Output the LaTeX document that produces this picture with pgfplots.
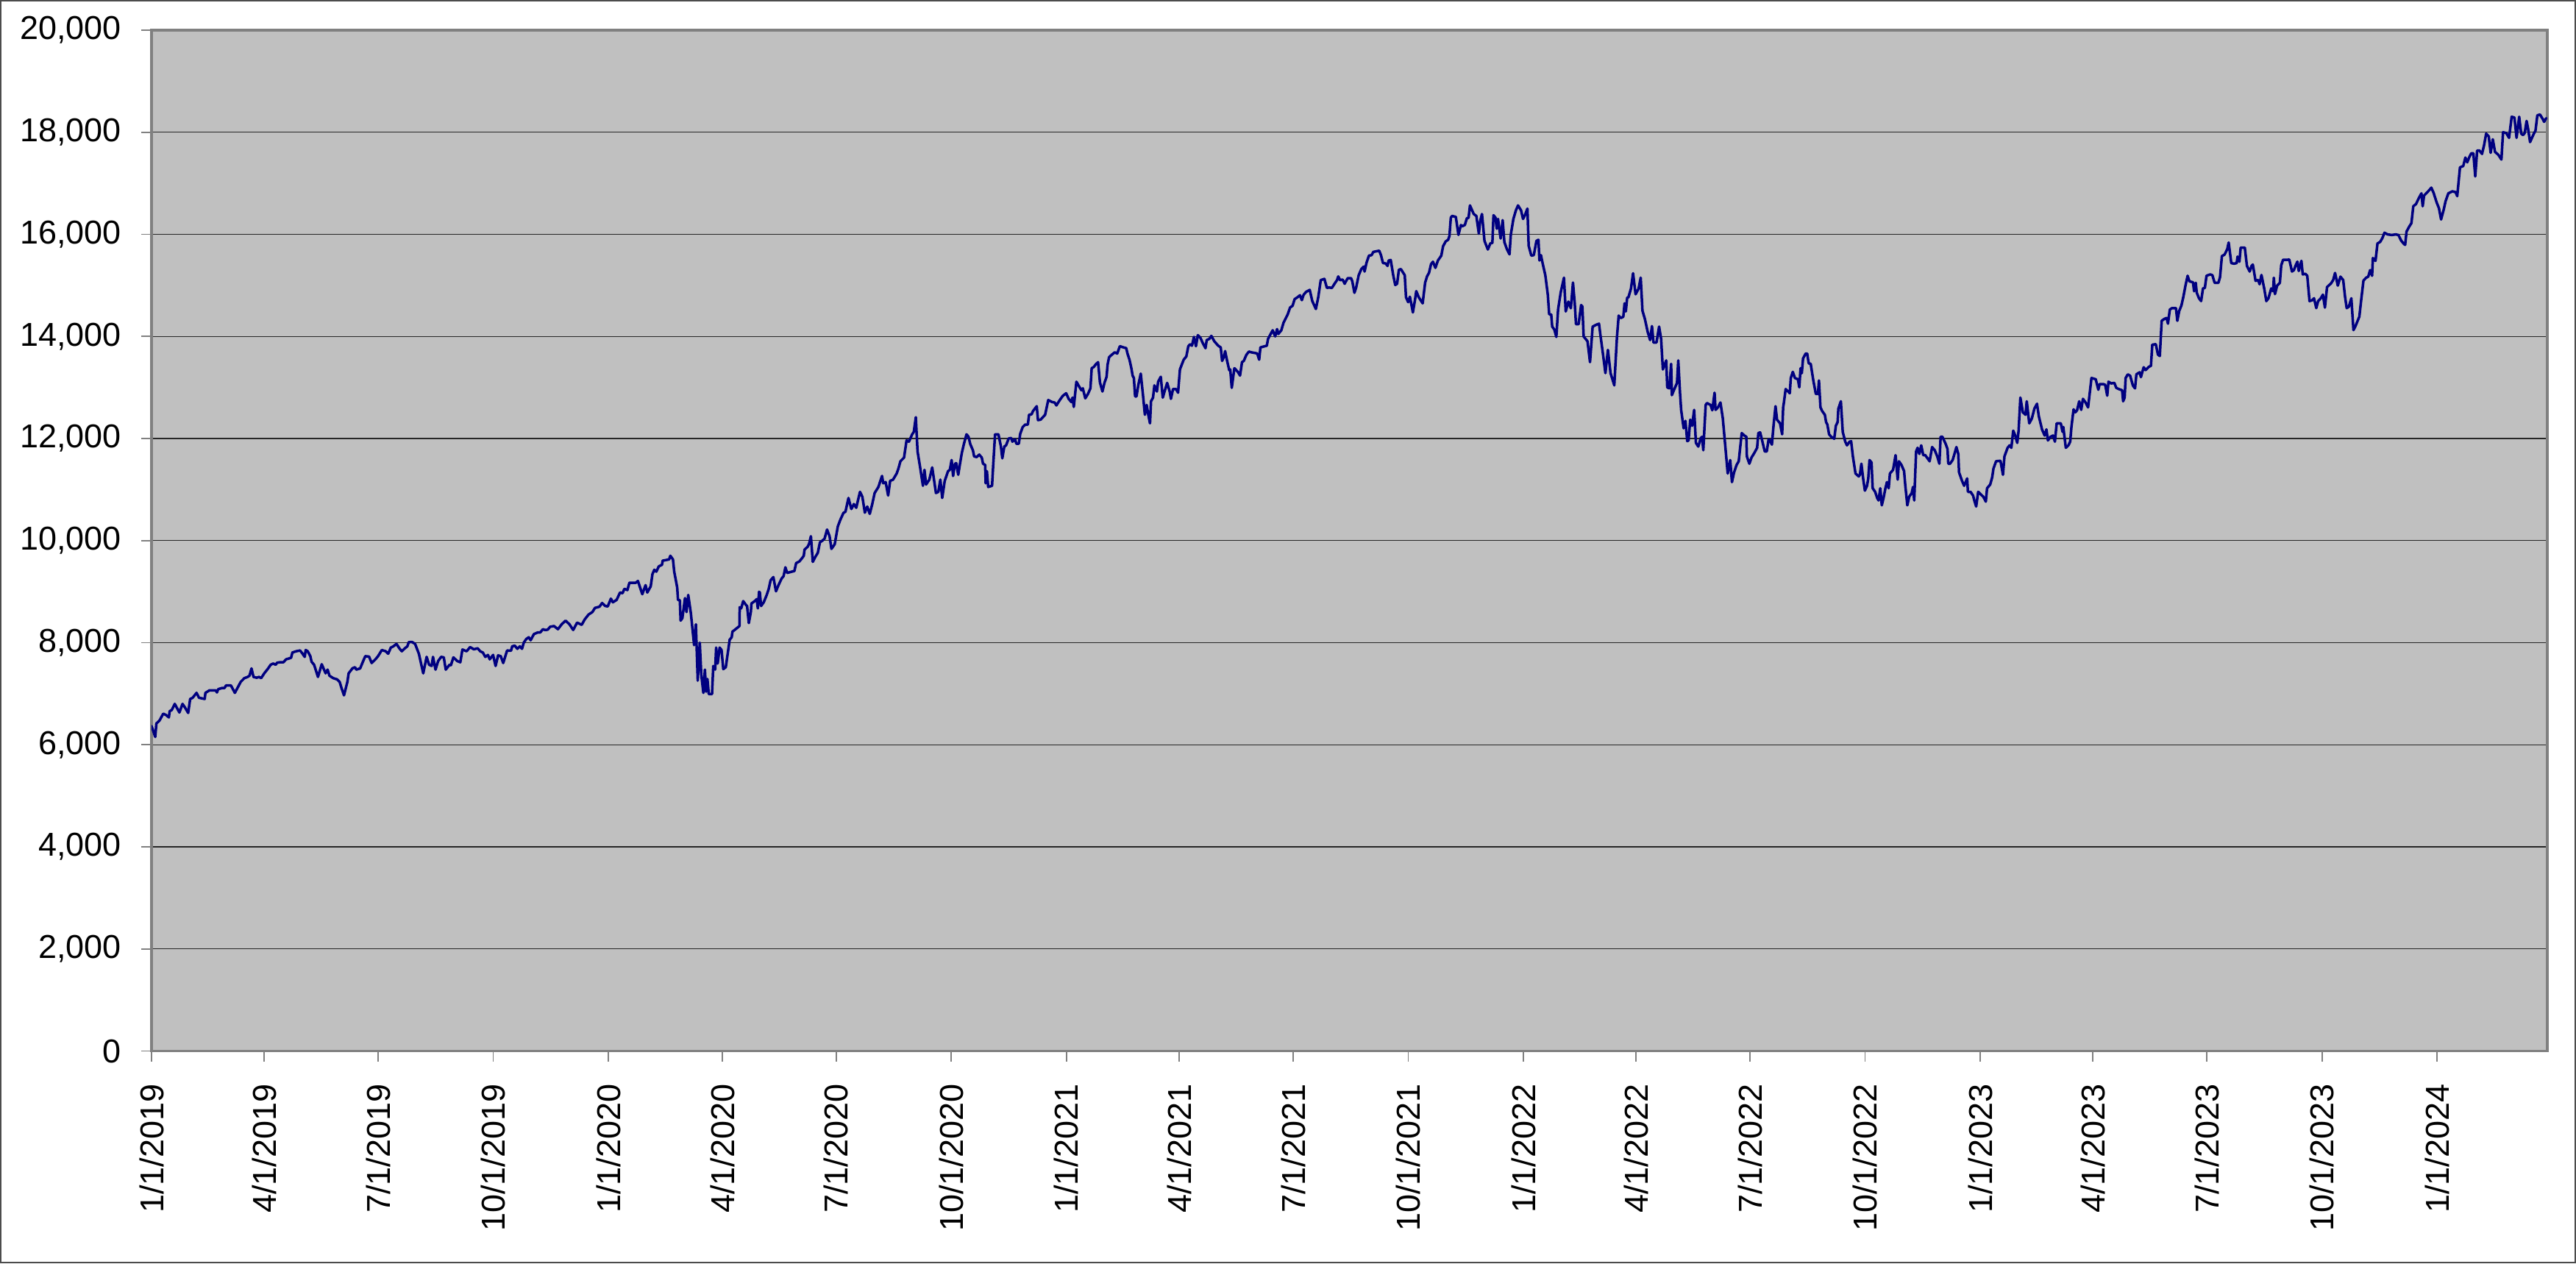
\documentclass[border=0pt]{standalone}
\usepackage{pgfplots}
\pgfplotsset{compat=1.18}
\usepackage{pgfplotstable}
\usepackage{fontspec}
\setmainfont{Liberation Sans}
\definecolor{plotbg}{HTML}{C0C0C0}
\definecolor{navyline}{HTML}{000080}
\definecolor{bordergray}{HTML}{808080}

\pgfplotstableread{
x y
0 6369
3 6154
3.9 6417
6.4 6475
9.4 6609
11.5 6585
13.9 6537
14.5 6657
16.2 6681
18.6 6801
20.7 6705
22.3 6633
24.8 6801
26.8 6729
29.3 6624
30.9 6897
32.9 6921
36.0 7017
38.0 6921
42.5 6897
43.1 7017
46.2 7065
51.3 7065
52.3 7026
53.3 7089
56.4 7113
58.4 7113
59.5 7161
63.5 7161
66.6 7017
68.7 7113
71.3 7233
74.2 7305
76.8 7329
78.3 7353
79.9 7496
81.5 7329
84.0 7314
86.0 7329
87.6 7305
90.1 7400
93.2 7496
95.2 7568
97.2 7592
99.3 7568
100.3 7607
102.4 7616
105.4 7616
107.5 7674
111.5 7703
112.6 7808
115.6 7832
118.7 7847
120.7 7784
122.4 7722
123.2 7856
124.8 7832
126.9 7736
127.9 7626
129.9 7568
133.0 7329
136.0 7578
139.1 7400
140.7 7472
142.2 7353
145.2 7305
148.3 7281
150.3 7233
151.8 7113
153.8 6969
156.5 7233
157.5 7400
160.5 7496
162.6 7520
163.6 7472
166.7 7496
168.7 7616
170.8 7736
173.8 7727
175.9 7602
178.9 7674
181.0 7736
184.0 7856
187.1 7832
189.1 7784
191.2 7904
193.2 7928
195.7 7976
198.3 7880
200.0 7832
202.4 7890
204.4 7928
205.5 8010
208.1 8014
210.6 7976
213.6 7784
217.1 7400
219.8 7722
221.8 7568
223.8 7544
224.9 7722
226.9 7472
229.0 7640
231.4 7722
233.5 7712
235.1 7472
238.1 7568
239.2 7559
241.2 7712
244.3 7640
246.7 7616
248.4 7866
251.8 7832
254.5 7914
257.5 7871
260.6 7890
262.6 7832
264.7 7808
266.7 7722
268.8 7760
270.2 7674
272.9 7760
274.9 7544
276.9 7751
279.0 7736
281.0 7602
284.1 7847
287.2 7842
288.2 7928
290.2 7942
292.3 7880
294.3 7928
296.0 7880
297.4 8000
299.4 8072
301.4 8106
302.9 8048
305.5 8168
308.6 8201
310.6 8201
312.7 8264
314.3 8249
316.5 8254
318.5 8312
321.6 8326
324.7 8264
327.7 8360
330.8 8432
333.9 8360
336.9 8249
340.0 8393
343.7 8350
346.1 8456
349.2 8552
352.2 8600
354.3 8681
357.9 8705
360.0 8777
362.5 8719
364.5 8710
367.0 8863
368.6 8791
371.6 8839
374.3 8983
376.3 8969
377.8 9055
380.2 9031
381.8 9175
383.9 9175
387.0 9175
388.6 9209
392.1 8950
394.7 9127
396.1 8983
398.8 9103
400.2 9343
401.7 9429
403.3 9391
405.3 9496
407.8 9525
408.4 9607
413.5 9631
414.5 9703
416.6 9631
417.6 9391
420.0 9079
420.6 8839
422.1 8830
422.7 8432
424.1 8480
426.2 8873
427.4 8600
428.8 8935
430.9 8576
433.5 7952
434.9 8360
436.4 7257
438.0 8000
439.2 7377
440.9 7017
442.1 7473
443.1 7041
444.1 7290
445.2 6993
447.8 6993
448.8 7544
450.3 7473
451.1 7904
452.3 7592
453.9 7904
455.4 7856
456.8 7482
458.8 7520
461.9 8058
463.5 8106
464.1 8216
466.6 8264
469.7 8326
469.9 8695
471.1 8672
472.7 8815
474.8 8743
475.8 8719
477.2 8384
478.8 8600
479.3 8767
481.9 8815
483.5 8854
484.4 8672
485.4 8998
486.0 8983
487.0 8719
489.1 8791
491.5 8935
493.1 9055
494.6 9223
496.8 9285
498.9 9007
500.9 9127
503.4 9257
505.0 9305
506.4 9477
507.8 9367
511.5 9391
513.6 9405
515.0 9559
517.6 9592
519.7 9655
521.1 9703
521.7 9823
524.2 9880
525.4 9942
526.8 10086
528.3 9583
530.3 9679
532.3 9760
534.0 9966
536.0 10000
537.7 10038
539.7 10216
541.7 10086
543.2 9837
545.8 9928
548.3 10278
550.3 10408
552.8 10542
554.4 10566
556.8 10835
559.1 10619
561.1 10715
563.0 10643
566.0 10955
567.9 10859
569.9 10547
571.8 10667
573.8 10523
575.8 10715
577.7 10931
580.7 11050
583.6 11266
584.6 11122
586.5 11146
588.5 10883
590.1 11170
592.4 11194
595.3 11314
596.7 11410
598.3 11554
601.2 11626
603.2 11962
605.1 11938
607.7 12082
609.0 12130
610.6 12417
612.0 11746
613.9 11458
616.3 11074
617.5 11386
618.8 11098
621.4 11194
623.7 11434
626.7 10931
628.6 10955
630.2 11194
631.7 10835
633.7 11170
636.4 11362
637.8 11386
639.2 11578
640.4 11266
641.9 11506
642.9 11516
644.5 11290
645.9 11506
647.4 11722
649.0 11890
651.1 12082
652.7 12034
654.1 11890
656.2 11770
657.2 11650
659.2 11636
661.3 11684
663.3 11626
664.3 11506
666.0 11482
666.4 11122
667.4 11362
668.4 11050
671.5 11074
672.5 11506
673.9 12082
676.6 12082
678.6 11842
679.7 11612
681.3 11842
682.7 11866
684.8 12000
686.8 12010
687.8 11938
689.9 11986
690.9 11899
692.9 11899
694.0 12091
696.0 12225
698.0 12273
700.1 12273
701.1 12465
703.1 12475
704.2 12537
707.2 12633
708.2 12360
710.3 12369
713.9 12465
716.4 12753
719.5 12715
721.5 12705
722.9 12648
725.6 12753
728.0 12835
730.7 12887
732.7 12777
734.8 12715
735.8 12801
736.8 12619
738.9 13113
740.9 13026
742.9 12945
744.0 12983
746.0 12787
748.1 12873
750.1 12983
751.1 13377
752.8 13401
754.2 13448
756.2 13496
757.7 13098
759.7 12921
761.3 13089
763.0 13209
763.8 13448
765.0 13592
767.1 13640
769.5 13688
771.5 13664
773.6 13808
776.6 13784
778.7 13770
779.7 13664
781.3 13544
782.8 13377
783.8 13233
784.8 13185
785.8 12825
786.9 12825
788.3 13041
790.3 13271
792.0 12873
793.6 12465
795.0 12657
796.5 12441
797.7 12297
798.5 12729
800.1 12801
801.2 13041
803.2 12921
804.2 13113
806.3 13209
807.9 12801
809.3 12921
811.4 13089
813.4 12921
814.4 12777
816.1 12969
818.5 12969
820.1 12897
821.6 13353
824.6 13544
826.7 13607
828.3 13808
829.7 13847
831.2 13818
832.8 13990
834.4 13808
835.9 14024
837.9 13976
839.9 13866
842.0 13770
843.0 13928
845.1 13952
846.7 14010
849.1 13904
850.8 13856
852.2 13818
854.2 13784
855.3 13520
856.9 13607
857.7 13712
859.3 13520
861.0 13338
861.8 13353
863.0 12993
865.1 13377
867.9 13305
869.6 13233
871.2 13496
872.6 13520
874.7 13640
876.7 13703
878.7 13688
881.8 13674
883.4 13664
884.9 13544
885.9 13784
888.0 13799
891.0 13818
892.0 13952
894.1 14048
895.7 14120
897.7 14000
899.2 14144
900.2 14048
902.6 14120
904.3 14264
907.7 14432
909.6 14566
911.6 14600
913.2 14729
915.5 14767
917.5 14806
919.0 14710
920.4 14815
922.4 14873
925.3 14911
927.3 14695
930.2 14537
932.1 14767
934.1 15103
937.0 15127
939.0 14950
940.6 14959
943.0 14950
945.5 15046
947.1 15103
948.1 15175
949.5 15103
951.6 15113
953.2 15031
954.2 15079
955.7 15142
958.3 15142
959.3 15079
961.0 14854
962.4 14959
964.4 15199
966.5 15319
968.5 15367
969.1 15271
970.6 15439
972.6 15583
974.7 15592
976.1 15655
978.7 15669
980.8 15679
982.2 15592
983.8 15439
985.9 15429
987.5 15381
988.3 15487
990.0 15496
992.0 15199
993.6 15007
995.1 15031
996.5 15305
998.1 15319
1001.2 15199
1002.2 14767
1003.9 14672
1005.3 14777
1006.7 14600
1007.7 14470
1009.4 14719
1010.4 14887
1012.4 14767
1015.5 14648
1017.5 15055
1019.0 15175
1020.6 15247
1022.2 15415
1023.7 15463
1025.7 15343
1027.7 15487
1030.4 15583
1031.8 15765
1033.9 15861
1035.9 15894
1036.9 15966
1038.0 16326
1039.0 16360
1042.0 16341
1044.1 15990
1046.1 16182
1047.1 16158
1049.2 16182
1050.8 16312
1052.2 16326
1053.3 16566
1056.3 16398
1058.4 16360
1060.4 16014
1061.4 16254
1062.9 16398
1064.9 15871
1067.6 15703
1069.6 15823
1071.2 15832
1072.1 16374
1073.7 16326
1074.7 16110
1075.7 16302
1077.8 15918
1079.4 16278
1080.8 15847
1082.9 15703
1084.9 15607
1085.9 15990
1088.0 16302
1090.0 16470
1091.7 16566
1094.1 16470
1095.7 16302
1097.2 16374
1099.2 16504
1100.2 15775
1102.3 15583
1104.3 15592
1106.4 15871
1108.0 15894
1108.8 15487
1110.0 15592
1111.5 15415
1113.5 15199
1115.5 14815
1116.6 14432
1118.2 14432
1119.0 14192
1120.7 14134
1122.3 13990
1123.7 14528
1125.8 14863
1128.4 15151
1129.8 14489
1131.9 14681
1133.9 14552
1135.6 15055
1137.0 14648
1138.0 14240
1140.1 14240
1142.1 14614
1143.1 14585
1144.1 14000
1147.2 13904
1149.2 13496
1151.3 14192
1154.3 14230
1156.4 14249
1157.4 14048
1159.5 13664
1161.5 13281
1163.5 13736
1165.6 13281
1168.6 13041
1170.7 13976
1172.1 14408
1173.7 14360
1175.8 14384
1176.8 14648
1177.8 14489
1178.9 14758
1179.9 14767
1181.9 14935
1183.6 15237
1185.6 14825
1188.0 14935
1189.7 15151
1191.1 14504
1193.1 14336
1195.2 14096
1197.2 13928
1198.7 14202
1199.9 13880
1202.3 13880
1204.4 14192
1206.0 13952
1207.4 13353
1210.1 13530
1210.9 13002
1212.5 12983
1214.0 13463
1214.6 12849
1216.6 12969
1218.7 13089
1219.7 13530
1221.1 12897
1222.0 12561
1224.0 12201
1225.4 12345
1226.9 11947
1227.9 11962
1229.3 12369
1230.8 12249
1232.4 12561
1233.8 11914
1235.7 11842
1237.7 12010
1238.7 12034
1239.7 11770
1241.6 12657
1242.6 12695
1245.5 12657
1246.9 12552
1248.7 12897
1249.5 12561
1251.4 12609
1253.4 12705
1255.3 12393
1257.3 11842
1259.2 11314
1261.2 11578
1262.6 11146
1264.3 11338
1266.3 11482
1268.0 11554
1270.4 12106
1272.5 12058
1274.1 12034
1274.5 11650
1276.5 11506
1278.2 11626
1280.6 11722
1282.7 11818
1283.7 12106
1285.1 12120
1286.7 11962
1288.8 11746
1290.4 11746
1291.9 11986
1292.9 11962
1294.5 11880
1295.9 12274
1297.4 12633
1298.6 12369
1301.0 12297
1302.7 12082
1303.5 12609
1304.1 12705
1305.5 12969
1308.8 12887
1309.6 13185
1311.2 13305
1312.9 13185
1315.3 13161
1316.4 13002
1317.4 13377
1318.4 13281
1319.4 13568
1321.5 13664
1322.7 13664
1323.9 13473
1325.5 13463
1327.6 13137
1329.6 12873
1331.3 12873
1332.1 13137
1333.3 12609
1334.7 12537
1336.8 12465
1337.8 12321
1338.8 12274
1340.2 12082
1341.9 12034
1344.3 11995
1345.6 12250
1347.0 12321
1347.6 12585
1349.6 12729
1351.1 12130
1353.1 11938
1354.5 11866
1356.6 11938
1357.8 11947
1359.2 11650
1361.3 11314
1363.9 11257
1364.8 11290
1366.0 11506
1367.4 11218
1368.8 10979
1370.5 11074
1371.5 11218
1372.5 11578
1374.1 11530
1375.0 11026
1377.0 10955
1378.6 10835
1379.7 10787
1381.1 11026
1382.3 10691
1383.7 10835
1385.2 11026
1386.4 11146
1387.8 11026
1388.8 11314
1391.3 11386
1393.3 11674
1395.0 11194
1396.0 11554
1398.0 11482
1400.1 11362
1401.1 11074
1402.7 10691
1404.2 10859
1406.2 10931
1407.2 11050
1408.2 10787
1409.7 11746
1410.9 11818
1412.3 11698
1413.8 11866
1415.4 11674
1417.0 11674
1419.1 11602
1420.5 11554
1422.5 11832
1424.6 11770
1426.6 11650
1428.3 11506
1429.3 12034
1430.7 12034
1433.4 11890
1434.8 11794
1435.4 11506
1436.8 11506
1438.9 11578
1439.9 11660
1441.9 11832
1443.4 11698
1444.0 11338
1446.4 11170
1448.1 11074
1450.5 11218
1451.1 10955
1453.2 10955
1455.2 10883
1456.2 10787
1457.7 10667
1459.3 10955
1461.3 10907
1463.4 10859
1465.4 10763
1466.4 11026
1468.9 11098
1470.5 11242
1471.5 11410
1473.6 11554
1477.1 11564
1479.1 11290
1480.3 11650
1482.8 11818
1484.4 11866
1485.8 11818
1487.3 12154
1488.9 12058
1490.5 11914
1491.6 12154
1493.0 12801
1495.0 12513
1497.1 12465
1498.1 12729
1500.1 12297
1502.2 12393
1504.2 12585
1506.3 12681
1507.7 12441
1510.3 12178
1512.4 12058
1513.8 12178
1515.0 11962
1517.1 12034
1519.1 12058
1520.6 11938
1522.0 12297
1525.3 12297
1526.7 12130
1527.3 12226
1529.3 11818
1531.4 11866
1532.8 11938
1533.8 12226
1535.5 12571
1536.9 12513
1538.3 12552
1540.0 12729
1541.6 12561
1543.0 12777
1545.1 12705
1547.1 12609
1548.5 12907
1549.8 13185
1553.2 13161
1555.3 12955
1556.3 13065
1559.4 13065
1560.8 13050
1562.4 12839
1563.4 13113
1565.5 13079
1568.1 13089
1569.6 12993
1571.6 12969
1574.3 12945
1575.1 12729
1576.3 12801
1577.1 13185
1578.8 13257
1580.7 13230
1582.9 13037
1584.6 12982
1585.7 13258
1588.3 13297
1589.3 13203
1591.5 13396
1593.0 13341
1595.8 13407
1597.3 13423
1598.4 13837
1601.2 13848
1602.9 13644
1604.4 13616
1605.9 14306
1608.1 14344
1609.8 14361
1610.9 14250
1612.4 14526
1614.1 14554
1617.3 14554
1618.4 14306
1619.9 14499
1621.7 14609
1623.2 14774
1624.9 14995
1626.6 15188
1628.1 15078
1630.9 15061
1631.8 14885
1633.1 15050
1633.9 14857
1635.7 14747
1637.4 14692
1638.9 14940
1640.4 14951
1641.7 15188
1644.7 15215
1646.4 15199
1648.2 15050
1651.2 15050
1652.5 15160
1654.0 15574
1656.1 15601
1658.3 15712
1659.4 15839
1661.5 15436
1663.7 15425
1665.8 15436
1666.5 15563
1668.0 15464
1669.0 15739
1672.3 15739
1674.0 15381
1676.2 15271
1677.7 15381
1678.7 15408
1680.9 15089
1683.0 15105
1684.1 15022
1685.6 15204
1687.8 14940
1689.5 14692
1691.2 14747
1693.4 14940
1694.9 14885
1695.5 15149
1696.4 14829
1698.1 14995
1700.3 15050
1701.4 15392
1702.9 15502
1706.7 15502
1707.8 15508
1710.0 15271
1711.5 15298
1713.2 15408
1714.3 15464
1715.4 15282
1717.5 15480
1718.6 15215
1720.7 15226
1722.2 15188
1724.0 14692
1726.1 14708
1727.6 14747
1729.4 14554
1730.9 14692
1733.0 14747
1734.7 14818
1736.3 14565
1738.0 14967
1741.2 15039
1742.9 15105
1744.4 15243
1746.6 14995
1748.7 15171
1750.9 15105
1752.4 14774
1753.7 14554
1755.4 14581
1757.4 14747
1759.1 14124
1760.6 14195
1763.8 14388
1765.3 14719
1767.1 15094
1769.2 15149
1770.9 15171
1772.4 15298
1774.0 15188
1774.6 15535
1776.7 15480
1778.3 15822
1780.4 15850
1782.1 15921
1783.9 16031
1786.4 15998
1789.7 15987
1792.9 15998
1795.0 15987
1797.2 15877
1799.4 15811
1800.4 15794
1801.5 16054
1803.7 16153
1805.4 16219
1806.9 16550
1809.1 16594
1811.2 16704
1813.4 16803
1814.4 16550
1815.5 16759
1817.7 16814
1819.8 16870
1821.3 16914
1823.1 16814
1825.6 16622
1827.4 16511
1829.1 16291
1831.2 16484
1832.7 16649
1834.9 16803
1838.1 16842
1840.7 16826
1842.0 16748
1844.2 17311
1846.8 17338
1848.5 17504
1850.0 17410
1851.5 17504
1853.2 17586
1854.9 17586
1856.4 17134
1857.9 17642
1859.7 17642
1861.8 17575
1863.5 17752
1865.1 17972
1867.2 17917
1868.7 17597
1870.4 17862
1872.2 17614
1874.8 17559
1877.3 17465
1878.6 18000
1881.2 17983
1883.4 17890
1885.5 18303
1887.7 18287
1889.4 17890
1891.5 18303
1893.1 17972
1894.6 17945
1895.9 17983
1897.4 18221
1898.5 18083
1900.2 17807
1901.7 17890
1903.2 17972
1904.5 18028
1906.0 18331
1908.1 18347
1910.3 18259
1911.4 18204
1913.1 18276
}\seriesdata

\begin{document}
\begin{tikzpicture}
\begin{axis}[
  name=ax,
  scale only axis,
  width=651.6pt, height=277.6pt,
  xmin=0, xmax=1914,
  ymin=0, ymax=20000,
  scaled y ticks=false,
  scaled x ticks=false,
  axis background/.style={fill=plotbg},
  axis line style={draw=bordergray, line width=0.75pt},
  ymajorgrids,
  grid style={draw=black!85, line width=0.25pt},
  tick align=outside,
  major tick length=2.8pt,
  tick style={draw=bordergray, line width=0.35pt},
  xtick pos=bottom, ytick pos=left,
  ytick={0,2000,4000,6000,8000,10000,12000,14000,16000,18000,20000},
  yticklabels={0,{2,000},{4,000},{6,000},{8,000},{10,000},{12,000},{14,000},{16,000},{18,000},{20,000}},
  xtick={0,90,181,273,365,456,547,639,731,821,912,1004,1096,1186,1277,1369,1461,1551,1642,1734,1826},
  xticklabels={1/1/2019,4/1/2019,7/1/2019,10/1/2019,1/1/2020,4/1/2020,7/1/2020,10/1/2020,1/1/2021,4/1/2021,7/1/2021,10/1/2021,1/1/2022,4/1/2022,7/1/2022,10/1/2022,1/1/2023,4/1/2023,7/1/2023,10/1/2023,1/1/2024},
  ticklabel style={font=\fontsize{9pt}{10pt}\selectfont, text=black},
  yticklabel style={anchor=east, inner sep=0pt},
  yticklabel shift=5.2pt,
  xticklabel style={rotate=90, anchor=east, inner sep=0pt},
  xticklabel shift=6pt,
  clip=true,
]
\addplot[navyline, line width=0.7pt, line join=round, line cap=round, mark=none] table[x=x, y=y] {\seriesdata};
\end{axis}
\draw[draw=black!70, line width=0.4pt]
  ([shift={(-41pt,-57.6pt)}]ax.south west) rectangle ([shift={(7.6pt,8.0pt)}]ax.north east);
\end{tikzpicture}
\end{document}
